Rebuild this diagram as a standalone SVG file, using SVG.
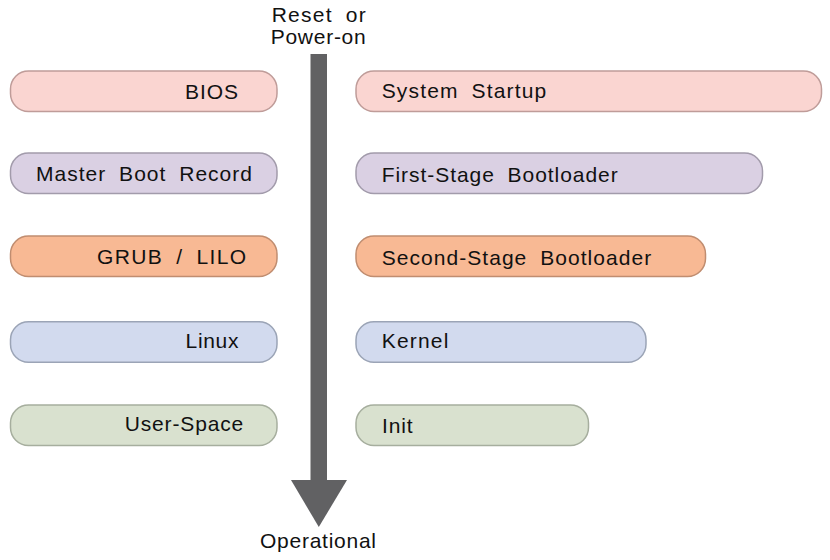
<svg xmlns="http://www.w3.org/2000/svg" width="830" height="560" viewBox="0 0 830 560">
<style>
text{font-family:"Liberation Sans",Arial,sans-serif;font-size:21px;word-spacing:6px;fill:#111;}
.pill{stroke-width:1.5;}
.red{fill:#fad5d1;stroke:#bf9c99;}
.pur{fill:#dad0e3;stroke:#a29bab;}
.org{fill:#f8b994;stroke:#c08d70;}
.blu{fill:#d2daee;stroke:#9ba4b6;}
.grn{fill:#d9e1cf;stroke:#a6ae9e;}
</style>
<rect width="830" height="560" fill="#fff"/>
<g id="connectors">
<rect x="310.5" y="54" width="16.5" height="428" fill="#616163"/>
<polygon points="291,480 347,480 318.8,527" fill="#616163"/>
</g>
<g id="label-reset"><text x="271.7" y="21.5" textLength="94" lengthAdjust="spacing">Reset or</text><text x="270.7" y="44.3" textLength="95" lengthAdjust="spacing">Power-on</text></g>
<g id="label-operational"><text x="260" y="548.3" textLength="116" lengthAdjust="spacing">Operational</text></g>
<g id="bios"><rect class="pill red" x="10.5" y="71" width="266.5" height="40.5" rx="18"/><text x="185" y="99.3" textLength="53" lengthAdjust="spacing">BIOS</text></g>
<g id="mbr"><rect class="pill pur" x="10.5" y="153" width="266.5" height="40.5" rx="18"/><text x="36" y="180.5" textLength="216" lengthAdjust="spacing">Master Boot Record</text></g>
<g id="grub"><rect class="pill org" x="10.5" y="236" width="266.5" height="40.5" rx="18"/><text x="97" y="264" textLength="149" lengthAdjust="spacing">GRUB / LILO</text></g>
<g id="linux"><rect class="pill blu" x="10.5" y="321.8" width="266.5" height="40.5" rx="18"/><text x="185.5" y="348.3" textLength="53" lengthAdjust="spacing">Linux</text></g>
<g id="userspace"><rect class="pill grn" x="10.5" y="405" width="266.5" height="40.5" rx="18"/><text x="124.7" y="430.7" textLength="118.6" lengthAdjust="spacing">User-Space</text></g>
<g id="startup"><rect class="pill red" x="356" y="71" width="465.5" height="40.5" rx="18"/><text x="381.7" y="97.7" textLength="164.5" lengthAdjust="spacing">System Startup</text></g>
<g id="firststage"><rect class="pill pur" x="356" y="153" width="406.5" height="40.5" rx="18"/><text x="381.7" y="181.7" textLength="236" lengthAdjust="spacing">First-Stage Bootloader</text></g>
<g id="secondstage"><rect class="pill org" x="356" y="236" width="349.5" height="40.5" rx="18"/><text x="381.7" y="265" textLength="269.5" lengthAdjust="spacing">Second-Stage Bootloader</text></g>
<g id="kernel"><rect class="pill blu" x="356" y="321.8" width="290" height="40.5" rx="18"/><text x="381.7" y="348.3" textLength="66.6" lengthAdjust="spacing">Kernel</text></g>
<g id="init"><rect class="pill grn" x="356" y="405" width="232.5" height="40.5" rx="18"/><text x="382" y="433.3" textLength="30.5" lengthAdjust="spacing">Init</text></g>
</svg>
